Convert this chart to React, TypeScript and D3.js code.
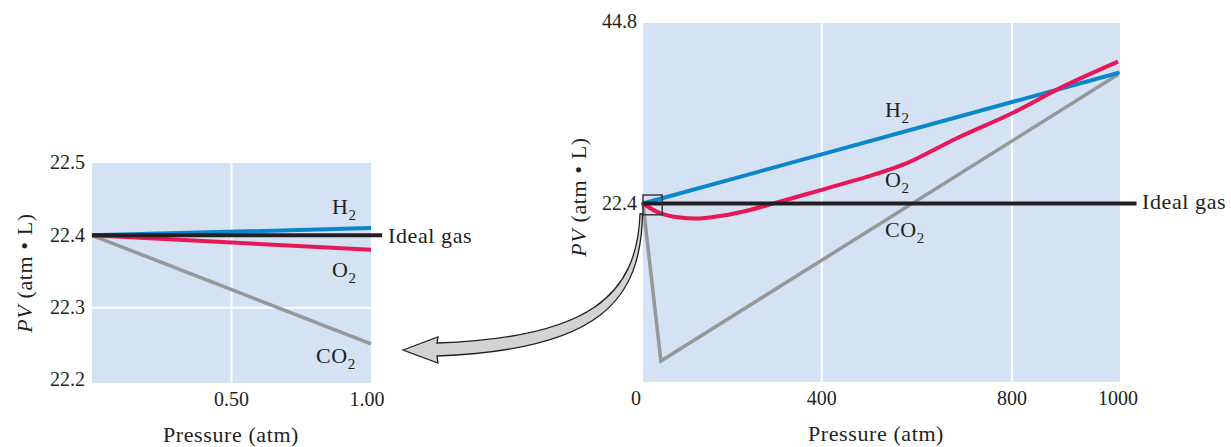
import React from "react";
import * as d3 from "d3";

// ---------- data: left (low pressure) chart ----------
const leftPressure = [0, 1.0];
const leftH2 = [22.4, 22.41];
const leftO2 = [22.4, 22.38];
const leftCO2 = [22.4, 22.25];
const leftIdealPressure = [0, 1.04];
const leftIdeal = [22.4, 22.4];
const leftXTicks = [0.5, 1.0];
const leftXTickLabels = ["0.50", "1.00"];
const leftYTicks = [22.2, 22.3, 22.4, 22.5];
const leftYTickLabels = ["22.2", "22.3", "22.4", "22.5"];
const leftXGrid = [0.5];
const leftYGrid = [22.3];

// ---------- data: right (high pressure) chart ----------
const rightH2Pressure = [0, 1000];
const rightH2 = [22.4, 38.6];
const rightO2Pressure = [0, 38, 83, 128, 180, 232, 292, 400, 508, 579, 684, 800, 896, 1000];
const rightO2 = [22.4, 21.2, 20.65, 20.55, 20.9, 21.5, 22.4, 24.1, 25.95, 27.4, 30.5, 33.6, 36.9, 40.0];
const rightCO2Pressure = [0, 40, 1000];
const rightCO2 = [22.4, 2.85, 38.4];
const rightIdealPressure = [0, 1035];
const rightIdeal = [22.4, 22.4];
const rightXTicks = [0, 400, 800, 1000];
const rightXTickLabels = ["0", "400", "800", "1000"];
const rightYTicks = [22.4, 44.8];
const rightYTickLabels = ["22.4", "44.8"];
const rightXGrid = [400, 800];
const zoomBoxPressure = [0, 43];
const zoomBoxPV = [21.0, 23.45];

// ---------- styles ----------
const FONT = '"Liberation Serif", "Times New Roman", serif';
const INK = "#231f20";
const BG = "#d4e2f4";
const BLUE = "#0a87cc";
const RED = "#e8175a";
const GRAY = "#979797";
const TICK_SIZE = 20;
const LABEL_SIZE = 22;

type Pt = [number, number];
const zip = (a: number[], b: number[]): Pt[] => a.map((v, i) => [v, b[i]]);

function Gas({ x, y, name, sub }: { x: number; y: number; name: string; sub?: string }) {
  return (
    <text x={x} y={y} fontFamily={FONT} fontSize={LABEL_SIZE} fill={INK} letterSpacing={0.6}>
      {name}
      {sub ? (
        <tspan fontSize={15} dy={6}>
          {sub}
        </tspan>
      ) : null}
    </text>
  );
}

function YTitle({ x, y }: { x: number; y: number }) {
  return (
    <text
      transform={`translate(${x},${y}) rotate(-90)`}
      textAnchor="middle"
      fontFamily={FONT}
      fontSize={LABEL_SIZE}
      fill={INK}
      letterSpacing={0.6}
    >
      <tspan fontStyle="italic">PV</tspan>
      <tspan> (atm • L)</tspan>
    </text>
  );
}

export default function App() {
  // left chart scales
  const xL = d3.scaleLinear().domain([0, 1]).range([92, 371]);
  const yL = d3.scaleLinear().domain([22.2, 22.5]).range([380, 163]);
  const leftBottom = 383;

  // right chart scales (the printed axis is not evenly spaced)
  const xR = d3.scaleLinear().domain([0, 400, 800, 1000]).range([643, 821.7, 1012, 1118]);
  const yR = d3.scaleLinear().domain([0, 44.8]).range([384, 23]);
  const rightRightEdge = 1120;
  const rightBottom = 382;

  const lineL = d3
    .line<Pt>()
    .x((d) => xL(d[0]))
    .y((d) => yL(d[1]));
  const lineR = d3
    .line<Pt>()
    .x((d) => xR(d[0]))
    .y((d) => yR(d[1]));
  const curveR = d3
    .line<Pt>()
    .x((d) => xR(d[0]))
    .y((d) => yR(d[1]))
    .curve(d3.curveCatmullRom.alpha(0.5));

  // magnifier arrow (annotation)
  const arrow = d3.path();
  arrow.moveTo(403, 350);
  arrow.lineTo(438, 337);
  arrow.lineTo(437, 343);
  arrow.bezierCurveTo(590, 338, 637, 295, 640, 214);
  arrow.lineTo(642.5, 214);
  arrow.bezierCurveTo(641, 300, 600, 350, 437, 356);
  arrow.lineTo(438, 363);
  arrow.closePath();

  return (
    <svg
      width={1231}
      height={447}
      style={{ position: "absolute", left: 0, top: 0, background: "#fff" }}
    >
      {/* ---------------- LEFT CHART ---------------- */}
      <rect
        x={xL(0)}
        y={yL(22.5)}
        width={xL(1) - xL(0)}
        height={leftBottom - yL(22.5)}
        fill={BG}
      />
      {leftXGrid.map((g) => (
        <line key={"lxg" + g} x1={xL(g)} x2={xL(g)} y1={yL(22.5)} y2={leftBottom} stroke="#fff" strokeWidth={2} />
      ))}
      {leftYGrid.map((g) => (
        <line key={"lyg" + g} x1={xL(0)} x2={xL(1)} y1={yL(g)} y2={yL(g)} stroke="#fff" strokeWidth={2} />
      ))}
      <path d={lineL(zip(leftPressure, leftCO2)) || ""} fill="none" stroke={GRAY} strokeWidth={3.5} />
      <path d={lineL(zip(leftPressure, leftO2)) || ""} fill="none" stroke={RED} strokeWidth={4} />
      <path d={lineL(zip(leftPressure, leftH2)) || ""} fill="none" stroke={BLUE} strokeWidth={4} />
      <path d={lineL(zip(leftIdealPressure, leftIdeal)) || ""} fill="none" stroke={INK} strokeWidth={4} />

      {leftYTicks.map((t, i) => (
        <text
          key={"lyt" + t}
          x={85}
          y={yL(t)}
          dy="0.32em"
          textAnchor="end"
          fontFamily={FONT}
          fontSize={TICK_SIZE}
          fill={INK}
        >
          {leftYTickLabels[i]}
        </text>
      ))}
      {leftXTicks.map((t, i) => (
        <text
          key={"lxt" + t}
          x={xL(t) - (t === 1 ? 4 : 0)}
          y={406}
          textAnchor="middle"
          fontFamily={FONT}
          fontSize={TICK_SIZE}
          fill={INK}
        >
          {leftXTickLabels[i]}
        </text>
      ))}
      <text x={231} y={442} textAnchor="middle" fontFamily={FONT} fontSize={LABEL_SIZE} fill={INK} letterSpacing={0.6}>
        Pressure (atm)
      </text>
      <YTitle x={32} y={273} />

      <Gas x={332} y={214} name="H" sub="2" />
      <Gas x={332} y={277} name="O" sub="2" />
      <Gas x={316} y={363} name="CO" sub="2" />
      <Gas x={388} y={243} name="Ideal gas" />

      {/* ---------------- RIGHT CHART ---------------- */}
      <rect
        x={xR(0)}
        y={yR(44.8)}
        width={rightRightEdge - xR(0)}
        height={rightBottom - yR(44.8)}
        fill={BG}
      />
      {rightXGrid.map((g) => (
        <line key={"rxg" + g} x1={xR(g)} x2={xR(g)} y1={yR(44.8)} y2={rightBottom} stroke="#fff" strokeWidth={2} />
      ))}
      <path d={lineR(zip(rightCO2Pressure, rightCO2)) || ""} fill="none" stroke={GRAY} strokeWidth={3.5} strokeLinejoin="miter" />
      <path d={lineR(zip(rightH2Pressure, rightH2)) || ""} fill="none" stroke={BLUE} strokeWidth={4} strokeLinecap="round" />
      <path d={curveR(zip(rightO2Pressure, rightO2)) || ""} fill="none" stroke={RED} strokeWidth={4} />
      <path d={lineR(zip(rightIdealPressure, rightIdeal)) || ""} fill="none" stroke={INK} strokeWidth={4} />
      <rect
        x={xR(zoomBoxPressure[0])}
        y={yR(zoomBoxPV[1])}
        width={xR(zoomBoxPressure[1]) - xR(zoomBoxPressure[0])}
        height={yR(zoomBoxPV[0]) - yR(zoomBoxPV[1])}
        fill="none"
        stroke="#3a3a3a"
        strokeWidth={1.5}
      />

      {rightYTicks.map((t, i) => (
        <text
          key={"ryt" + t}
          x={637}
          y={yR(t) + (t === 44.8 ? -1 : 0)}
          dy="0.32em"
          textAnchor="end"
          fontFamily={FONT}
          fontSize={TICK_SIZE}
          fill={INK}
        >
          {rightYTickLabels[i]}
        </text>
      ))}
      {rightXTicks.map((t, i) => (
        <text
          key={"rxt" + t}
          x={xR(t) + (t === 0 ? -7 : 0)}
          y={405}
          textAnchor="middle"
          fontFamily={FONT}
          fontSize={TICK_SIZE}
          fill={INK}
        >
          {rightXTickLabels[i]}
        </text>
      ))}
      <text x={876} y={441} textAnchor="middle" fontFamily={FONT} fontSize={LABEL_SIZE} fill={INK} letterSpacing={0.6}>
        Pressure (atm)
      </text>
      <YTitle x={586} y={197} />

      <Gas x={885} y={117} name="H" sub="2" />
      <Gas x={885} y={187} name="O" sub="2" />
      <Gas x={885} y={237} name="CO" sub="2" />
      <Gas x={1142} y={209} name="Ideal gas" />

      {/* magnifier arrow */}
      <path d={arrow.toString()} fill="#d3d3d3" stroke={INK} strokeWidth={1.3} strokeLinejoin="miter" />
    </svg>
  );
}
